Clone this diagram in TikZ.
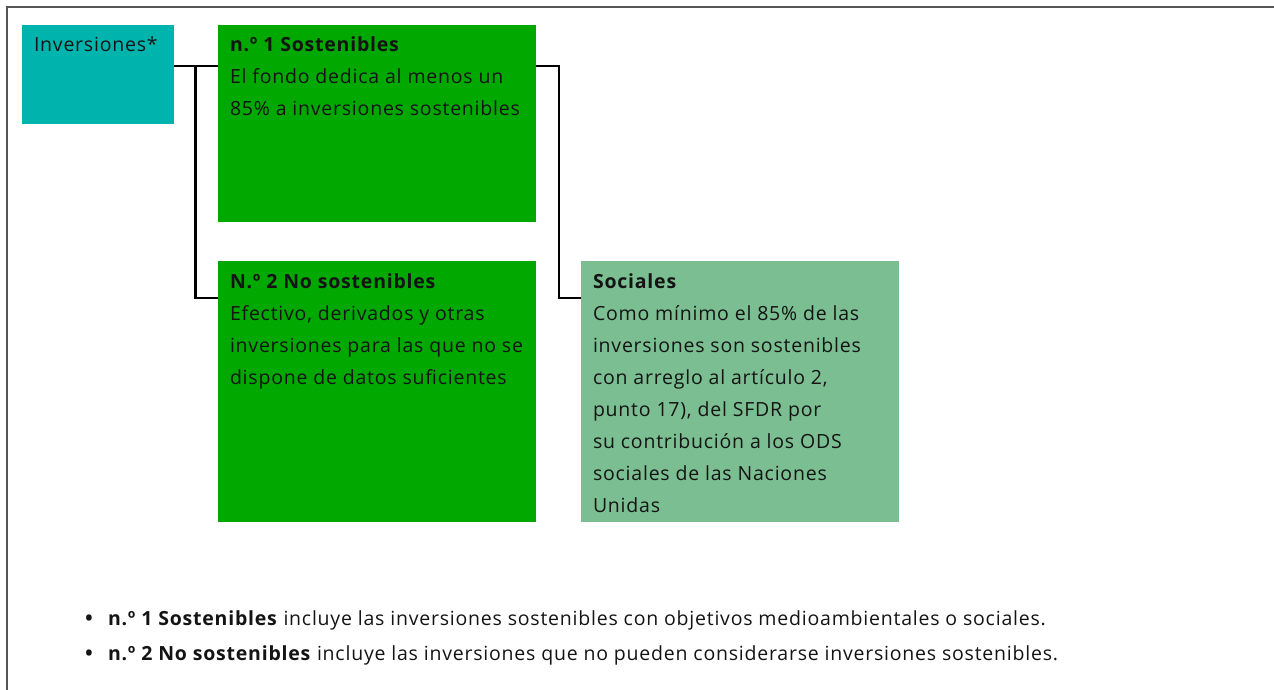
\documentclass[tikz,border=0pt]{standalone}
\usepackage{fontspec}
\setmainfont[LetterSpace=4]{Open Sans}
\definecolor{teal1}{RGB}{0,180,174}
\definecolor{green1}{RGB}{0,168,0}
\definecolor{green2}{RGB}{122,190,145}
\definecolor{frame1}{RGB}{85,85,85}
\definecolor{ink}{RGB}{20,20,20}
\newcommand{\boxlines}[1]{\begin{tabular}[t]{@{}l@{}}#1\end{tabular}}
\begin{document}
\begin{tikzpicture}[x=1pt,y=-1pt,
  every node/.style={inner sep=0pt, outer sep=0pt},
  box/.style={draw=none, anchor=north west},
  txt/.style={anchor=base west, text=ink, font=\fontsize{19.5}{32}\selectfont},
  bul/.style={anchor=base west, text=ink, font=\fontsize{26}{32}\selectfont},
  conn/.style={draw=black, line width=2.2pt},
  framestyle/.style={draw=frame1, line width=2pt}]
\useasboundingbox (0,0) rectangle (1274,690);
\fill[white] (0,0) rectangle (1274,690);
\draw[framestyle] (7,690) -- (7,7) -- (1274,7);

\node[box, fill=teal1, minimum width=152pt, minimum height=99pt] (inv) at (22,25) {};
\node[box, fill=green1, minimum width=318pt, minimum height=197pt] (s1) at (218,25) {};
\node[box, fill=green1, minimum width=318pt, minimum height=261pt] (s2) at (218,261) {};
\node[box, fill=green2, minimum width=318pt, minimum height=261pt] (soc) at (581,261) {};

\node[txt] (invt) at (34,52) {Inversiones*};
\node[txt] (s1t) at (230,52) {\boxlines{\textbf{n.º 1 Sostenibles}\\El fondo dedica al menos un\\85\% a inversiones sostenibles}};
\node[txt] (s2t) at (230,288) {\boxlines{\textbf{N.º 2 No sostenibles}\\Efectivo, derivados y otras\\inversiones para las que no se\\dispone de datos suficientes}};
\node[txt] (soct) at (593,288) {\boxlines{\textbf{Sociales}\\Como mínimo el 85\% de las\\inversiones son sostenibles\\con arreglo al artículo 2,\\punto 17), del SFDR por\\su contribución a los ODS\\sociales de las Naciones\\Unidas}};

\draw[conn] ([yshift=-41pt]inv.north east) -- ([yshift=-41pt]s1.north west);
\draw[conn] ([xshift=21.5pt,yshift=-41pt]inv.north east) |- ([yshift=-37pt]s2.north west);
\draw[conn] ([yshift=-41pt]s1.north east) -- ++(23,0) |- ([yshift=-37pt]soc.north west);

\node[bul] (b1) at (84,627) {•};
\node[txt] (l1) at (108,625) {\textbf{n.º 1 Sostenibles} incluye las inversiones sostenibles con objetivos medioambientales o sociales.};
\node[bul] (b2) at (84,662) {•};
\node[txt] (l2) at (108,660) {\textbf{n.º 2 No sostenibles} incluye las inversiones que no pueden considerarse inversiones sostenibles.};
\end{tikzpicture}
\end{document}
